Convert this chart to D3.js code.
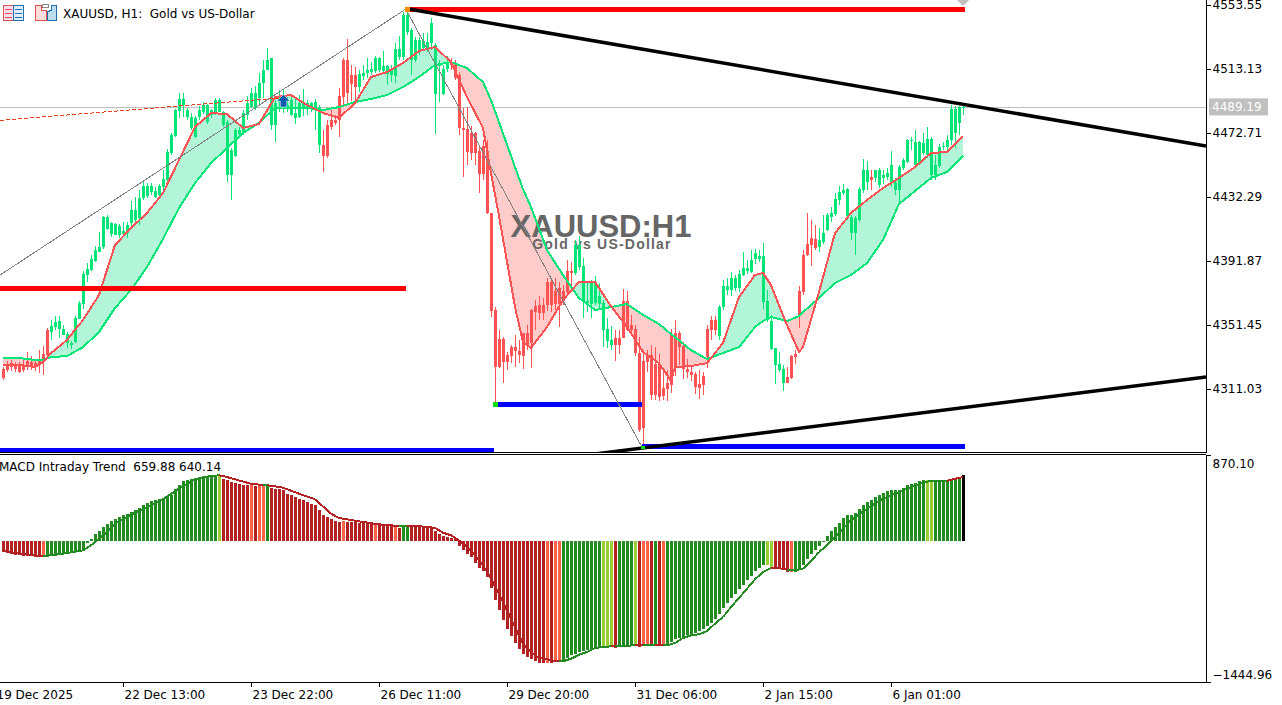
<!DOCTYPE html>
<html><head><meta charset="utf-8">
<script src="https://cdnjs.cloudflare.com/ajax/libs/d3/7.8.5/d3.min.js"></script>
<style>
html,body{margin:0;padding:0;background:#fff;overflow:hidden}
svg{display:block}
text{font-family:"DejaVu Sans",sans-serif;font-size:12px;fill:#000}
</style></head><body><div id="chart"></div>
<script>
const highs=[4324.9,4328.7,4329.3,4328.0,4328.0,4329.3,4334.4,4331.8,4329.3,4335.6,4338.2,4349.5,4354.6,4357.1,4357.1,4351.4,4347.0,4341.3,4357.1,4366.6,4385.5,4390.6,4395.6,4401.3,4410.2,4420.3,4420.9,4416.5,4415.8,4415.2,4416.5,4416.5,4429.7,4432.3,4436.7,4443.0,4441.1,4441.1,4438.6,4440.5,4449.3,4462.6,4472.7,4487.9,4498.0,4498.0,4488.5,4485.3,4483.4,4489.7,4492.3,4491.0,4487.9,4494.8,4494.8,4486.6,4480.9,4463.2,4475.9,4476.5,4487.2,4496.1,4501.1,4502.4,4510.6,4518.8,4526.4,4520.1,4493.5,4499.9,4499.9,4495.4,4497.3,4494.8,4496.7,4500.5,4493.5,4492.3,4494.2,4490.4,4474.6,4480.9,4487.2,4484.0,4501.1,4520.1,4532.1,4515.6,4514.4,4512.5,4515.6,4520.1,4517.5,4521.3,4520.7,4524.5,4515.6,4515.6,4529.5,4534.0,4549.1,4550.4,4539.0,4533.3,4533.3,4535.9,4535.9,4545.3,4529.5,4518.8,4515.6,4521.3,4520.1,4518.8,4511.2,4488.5,4489.1,4477.1,4473.3,4463.9,4468.3,4468.3,4422.2,4362.8,4348.3,4343.8,4334.4,4338.8,4345.1,4342.0,4346.4,4351.4,4361.5,4367.2,4369.7,4368.5,4381.1,4379.9,4381.1,4378.6,4376.7,4392.5,4391.2,4405.1,4407.6,4393.8,4378.0,4379.9,4382.4,4378.0,4367.2,4355.9,4350.8,4348.3,4348.3,4374.2,4372.9,4357.8,4351.4,4343.8,4335.6,4335.6,4338.8,4337.5,4333.1,4321.7,4323.0,4348.9,4354.6,4347.6,4340.7,4329.9,4325.5,4321.7,4323.0,4321.7,4351.4,4357.1,4357.1,4364.1,4379.9,4381.1,4384.9,4383.0,4386.2,4397.5,4392.5,4398.8,4399.4,4398.8,4403.2,4373.5,4357.8,4336.9,4334.4,4326.2,4324.9,4332.5,4335.6,4376.1,4398.8,4422.2,4417.7,4414.6,4412.7,4420.9,4422.2,4426.0,4434.8,4439.2,4440.5,4438.0,4420.9,4420.3,4438.6,4456.3,4455.0,4449.3,4449.3,4450.6,4449.3,4450.6,4461.3,4444.3,4452.5,4456.9,4468.9,4470.2,4474.6,4467.6,4472.7,4476.5,4470.2,4458.8,4465.7,4467.0,4471.4,4490.4,4489.7,4489.7,4490.4];
const lows=[4316.7,4321.7,4322.4,4321.7,4321.1,4321.7,4323.0,4323.0,4322.4,4321.1,4319.8,4331.8,4342.0,4348.3,4343.2,4345.1,4336.9,4336.3,4340.1,4355.2,4361.5,4378.6,4385.5,4391.2,4397.5,4399.4,4411.4,4407.0,4408.3,4406.4,4407.0,4406.4,4412.7,4414.6,4414.6,4430.4,4431.6,4433.5,4431.6,4431.6,4434.8,4441.7,4458.8,4470.2,4482.2,4482.8,4480.9,4474.6,4469.5,4480.9,4484.7,4478.4,4482.2,4484.1,4486.0,4476.5,4441.7,4430.4,4457.5,4471.4,4471.4,4480.9,4488.5,4487.2,4490.4,4494.8,4512.5,4474.6,4467.0,4485.9,4485.3,4485.9,4483.4,4478.4,4482.2,4483.4,4484.1,4485.9,4474.6,4460.1,4448.1,4456.9,4474.6,4477.8,4470.2,4490.4,4490.4,4492.9,4493.5,4498.6,4506.2,4507.4,4509.3,4510.6,4511.2,4510.6,4503.0,4504.9,4504.3,4518.8,4518.8,4534.6,4509.3,4517.5,4522.0,4525.1,4523.9,4525.1,4472.1,4492.3,4496.7,4511.2,4512.5,4506.2,4471.4,4444.9,4452.5,4455.6,4452.5,4434.8,4443.0,4421.5,4356.5,4301.5,4324.3,4314.8,4323.0,4327.4,4324.9,4327.4,4323.6,4335.6,4324.3,4348.3,4354.6,4354.6,4360.3,4359.6,4360.9,4350.2,4364.1,4370.4,4373.5,4383.0,4386.2,4355.9,4359.6,4355.9,4364.1,4360.9,4337.5,4336.9,4335.6,4328.7,4333.1,4343.2,4347.6,4347.0,4331.8,4283.8,4274.4,4321.7,4304.1,4304.1,4303.4,4304.1,4303.4,4308.5,4319.2,4326.2,4317.3,4318.0,4316.1,4307.9,4304.7,4307.2,4324.3,4342.0,4345.1,4342.0,4360.9,4370.4,4369.7,4372.9,4372.3,4382.4,4383.6,4384.3,4389.9,4391.2,4361.5,4353.3,4335.6,4314.2,4321.7,4309.7,4314.8,4317.3,4326.8,4349.5,4370.4,4395.0,4388.7,4398.8,4397.5,4402.6,4410.8,4416.5,4420.3,4427.2,4433.5,4417.7,4405.1,4395.6,4416.5,4434.8,4436.7,4436.7,4441.7,4438.0,4440.5,4443.0,4438.6,4433.5,4427.2,4449.3,4453.8,4462.0,4450.6,4452.5,4458.8,4456.9,4443.0,4443.0,4450.6,4462.0,4462.0,4465.1,4463.2,4471.4,4484.1];
const opens=[4323.6,4326.2,4327.4,4326.8,4325.5,4326.2,4328.7,4328.0,4327.4,4328.7,4333.1,4348.3,4347.0,4350.2,4348.9,4345.1,4340.1,4338.8,4340.7,4355.2,4364.7,4383.0,4386.2,4391.9,4397.5,4400.7,4412.1,4408.9,4408.3,4408.3,4408.9,4409.5,4415.9,4417.7,4419.0,4431.6,4432.9,4435.4,4432.3,4433.5,4438.6,4443.0,4460.1,4470.8,4486.6,4490.4,4482.8,4475.9,4470.2,4482.8,4485.9,4479.6,4484.0,4485.9,4485.9,4477.8,4446.2,4446.2,4458.2,4472.1,4472.7,4484.0,4489.1,4488.5,4494.8,4504.3,4512.5,4477.8,4477.8,4492.3,4490.4,4488.5,4484.0,4482.2,4482.8,4489.1,4489.1,4489.1,4488.5,4465.1,4465.1,4477.8,4480.9,4480.9,4496.1,4518.8,4518.8,4509.3,4509.3,4501.7,4508.7,4510.6,4511.2,4511.9,4512.5,4511.9,4510.0,4509.3,4508.7,4520.7,4520.7,4536.5,4518.8,4518.8,4523.9,4526.4,4525.1,4529.5,4497.3,4515.0,4497.3,4513.1,4516.9,4516.9,4509.3,4475.9,4475.2,4472.7,4472.7,4461.3,4464.5,4461.3,4422.2,4360.9,4342.6,4342.6,4332.5,4337.5,4337.5,4335.0,4346.4,4346.4,4360.9,4363.4,4364.1,4364.1,4378.6,4378.6,4372.9,4374.8,4372.9,4385.5,4385.5,4384.3,4388.1,4365.9,4365.3,4364.7,4365.3,4364.7,4348.3,4341.3,4338.8,4343.2,4343.2,4366.6,4366.6,4351.4,4348.9,4333.7,4328.7,4331.8,4332.5,4326.8,4326.8,4311.6,4314.8,4345.1,4346.4,4346.4,4338.2,4323.6,4321.7,4320.5,4314.2,4319.2,4348.9,4354.6,4354.6,4344.5,4362.8,4373.5,4373.5,4374.8,4374.8,4383.0,4385.5,4384.9,4393.1,4393.1,4365.9,4354.6,4336.3,4326.2,4323.0,4314.8,4318.6,4331.8,4333.1,4372.9,4395.6,4402.6,4406.4,4405.8,4400.7,4403.9,4411.4,4419.6,4421.5,4430.4,4434.8,4420.3,4409.5,4409.5,4417.7,4436.7,4441.7,4444.9,4444.3,4439.9,4444.3,4444.9,4441.1,4436.7,4436.7,4450.6,4454.4,4467.6,4452.5,4453.8,4460.1,4458.8,4446.2,4446.2,4451.9,4463.9,4463.9,4468.3,4472.7,4479.0,4488.5];
const closes=[4318.0,4323.0,4324.9,4323.6,4321.7,4323.0,4326.2,4325.5,4325.5,4326.2,4328.0,4332.5,4350.8,4353.3,4353.9,4348.9,4345.7,4340.1,4355.9,4365.3,4383.6,4386.8,4393.1,4398.8,4400.7,4419.6,4419.6,4415.9,4415.2,4413.9,4410.8,4414.6,4424.1,4424.1,4431.6,4439.2,4439.2,4439.2,4436.1,4439.2,4443.6,4460.7,4471.4,4487.2,4494.2,4494.2,4487.2,4482.8,4482.2,4487.2,4490.4,4490.4,4487.2,4493.5,4493.5,4485.9,4479.6,4462.0,4474.6,4474.6,4485.3,4491.6,4498.0,4498.0,4504.3,4512.5,4518.8,4520.1,4491.6,4495.4,4494.8,4490.4,4493.5,4485.3,4491.6,4491.6,4491.6,4491.6,4492.3,4489.1,4458.2,4458.2,4476.5,4479.0,4480.9,4495.4,4498.0,4503.6,4501.7,4510.0,4510.6,4512.5,4513.1,4520.1,4520.1,4515.0,4515.0,4512.5,4525.8,4525.8,4547.2,4547.2,4537.8,4531.4,4531.4,4530.8,4530.2,4542.2,4528.3,4516.9,4513.1,4517.5,4515.6,4507.4,4475.9,4474.6,4460.7,4460.1,4460.1,4446.8,4446.8,4422.2,4360.3,4324.9,4324.9,4328.0,4328.0,4331.8,4335.0,4332.5,4331.8,4338.8,4340.1,4359.6,4359.0,4359.0,4364.1,4364.1,4364.7,4364.7,4366.6,4372.3,4384.3,4402.0,4402.0,4388.7,4366.6,4378.0,4378.6,4369.7,4365.3,4348.9,4342.0,4338.8,4338.8,4343.2,4348.3,4348.3,4333.7,4285.1,4286.4,4328.0,4307.2,4307.2,4305.9,4306.6,4311.0,4313.5,4324.9,4337.5,4323.6,4321.7,4319.8,4312.3,4311.6,4313.5,4331.2,4348.3,4348.3,4362.8,4376.1,4376.1,4381.1,4381.1,4383.6,4387.4,4387.4,4392.5,4396.9,4395.0,4395.0,4366.6,4353.9,4336.9,4326.8,4323.6,4314.8,4318.0,4331.2,4357.8,4372.3,4395.6,4402.0,4400.1,4405.1,4409.5,4420.9,4422.2,4431.0,4435.4,4436.7,4437.3,4419.6,4419.0,4437.3,4449.3,4449.3,4443.0,4449.3,4449.3,4446.2,4447.4,4452.5,4441.7,4451.2,4455.6,4468.3,4468.3,4467.0,4467.0,4466.4,4468.9,4468.9,4452.5,4463.9,4464.5,4468.3,4487.9,4487.9,4489.1,4489.1];
const lineBars=[0,4,8,10,12,16,20,24,28,32,36,40,44,48,52,56,60,64,68,72,76,80,84,88,92,96,100,104,108,112,116,120,122,124,128,130,132,136,140,144,148,152,156,160,164,167,168,172,176,180,184,188,190,192,196,199,200,204,208,212,216,220,224,228,232,236,240];
const fastLine=[4326.2,4326.2,4324.9,4328.0,4333.7,4342.0,4354.6,4370.4,4402.0,4412.7,4422.2,4434.8,4455.6,4476.5,4485.3,4484.7,4475.9,4478.4,4495.4,4496.7,4490.4,4485.3,4482.2,4491.6,4508.1,4511.2,4516.9,4524.5,4527.0,4517.5,4495.4,4475.9,4447.4,4420.3,4362.8,4340.7,4336.9,4350.2,4367.2,4378.6,4378.6,4363.4,4350.2,4334.4,4327.4,4316.1,4324.9,4325.5,4327.4,4340.1,4369.1,4383.0,4384.3,4376.7,4351.4,4334.4,4337.5,4372.3,4409.5,4422.2,4430.4,4437.9,4444.3,4451.2,4460.1,4460.7,4470.8];
const slowLine=[4330.6,4330.6,4329.3,4329.3,4331.2,4331.8,4337.5,4347.0,4362.2,4373.5,4388.1,4405.8,4425.3,4441.1,4453.7,4463.2,4472.7,4479.0,4488.5,4488.5,4488.5,4487.2,4489.1,4492.3,4494.2,4496.7,4501.7,4508.1,4515.6,4517.5,4513.7,4504.9,4493.5,4479.6,4451.2,4437.3,4426.0,4398.8,4383.0,4368.5,4360.9,4362.8,4364.7,4357.8,4352.1,4345.7,4343.8,4335.6,4329.9,4333.7,4337.5,4350.2,4353.9,4356.5,4353.9,4357.1,4359.6,4368.5,4378.0,4383.0,4390.6,4405.1,4427.9,4436.1,4444.3,4448.1,4458.2];
const histValues=[-110,-120,-127,-137,-143,-150,-153,-153,-157,-157,-153,-143,-137,-133,-133,-127,-120,-113,-110,-103,-87,-17,23,67,97,140,170,200,223,237,257,273,290,307,330,363,380,403,413,423,433,450,463,523,563,597,613,623,633,640,647,653,657,657,650,623,607,590,580,567,557,557,557,550,550,550,550,533,523,517,507,473,457,440,423,407,390,373,357,307,263,240,217,200,190,197,190,190,190,180,180,173,173,173,163,157,150,147,140,130,147,147,147,147,140,140,133,133,97,73,50,40,33,17,-50,-93,-133,-160,-217,-270,-303,-360,-470,-593,-693,-793,-877,-950,-1017,-1077,-1127,-1160,-1183,-1203,-1217,-1220,-1220,-1220,-1210,-1203,-1190,-1167,-1143,-1127,-1110,-1103,-1093,-1087,-1070,-1060,-1050,-1050,-1050,-1070,-1050,-1050,-1050,-1043,-1027,-1060,-1050,-1043,-1043,-1043,-1043,-1043,-1043,-1010,-983,-970,-960,-943,-933,-917,-900,-883,-853,-820,-777,-727,-670,-620,-570,-527,-483,-437,-393,-350,-303,-267,-243,-243,-260,-260,-283,-293,-310,-310,-310,-277,-237,-183,-133,-93,-50,-5,47,97,140,183,230,257,263,283,317,357,390,413,440,457,483,500,507,510,513,533,557,573,583,597,607,613,590,590,607,613,613,623,633,640,659.88];
const histRuns=[["R",10],["T",1],["G",43],["Y",1],["R",7],["T",1],["R",1],["T",2],["G",1],["R",18],["T",1],["R",7],["T",1],["R",4],["T",1],["R",1],["G",2],["R",34],["T",1],["R",1],["T",2],["G",10],["Y",3],["R",1],["G",4],["Y",1],["R",1],["T",2],["R",1],["G",1],["R",1],["T",1],["G",25],["Y",2],["R",4],["T",1],["G",33],["Y",2],["G",7]];
const signalBars=[0,4,8,10,11,12,16,20,22,24,26,28,32,36,40,44,48,52,54,55,58,62,65,66,67,70,74,78,81,82,84,86,90,94,98,99,100,101,102,106,108,110,112,114,116,118,120,122,124,126,128,130,132,134,136,138,139,140,142,144,146,148,150,152,153,154,156,158,159,160,163,164,165,166,168,170,172,174,176,178,180,182,184,186,188,190,192,194,196,198,199,200,202,204,206,207,208,212,216,220,224,228,232,236,240];
const signalValues=[-100,-127,-143,-153,-148,-143,-120,-93,-43,23,90,173,263,340,417,523,617,650,657,650,617,573,560,557,553,533,473,417,310,273,230,217,190,167,153,150,150,150,150,143,130,83,57,7,-60,-143,-243,-377,-527,-693,-860,-1027,-1110,-1170,-1183,-1200,-1202,-1203,-1177,-1137,-1110,-1070,-1060,-1053,-1053,-1053,-1053,-1037,-1037,-1037,-1043,-1043,-1043,-1043,-1020,-970,-943,-933,-900,-827,-760,-660,-570,-477,-383,-310,-270,-270,-287,-293,-285,-277,-203,-110,-43,0,40,207,323,423,490,557,603,603,640.14];
const priceTicks=[4553.55,4513.13,4472.71,4432.29,4391.87,4351.45,4311.03];
const macdTicks=[870.10,-1444.96];
const dateTickBars=[-2,30,62,94,126,158,190,222];
const dateTickLabels=["19 Dec 2025","22 Dec 13:00","23 Dec 22:00","26 Dec 11:00","29 Dec 20:00","31 Dec 06:00","2 Jan 15:00","6 Jan 01:00"];
const bidPrice=4489.19;
const levelBars=[[-3,100.7],[-3,122.7],[122.7,159.7],[159.7,240.5],[100.7,240.5]];
const levelPrices=[4374.5,4272.5,4301.2,4274.7,4550.7];
const levelColors=["#ff0000","#0000ff","#0000ff","#0000ff","#ff0000"];
const trendDown={bars:[100.7,300.75],prices:[4551.3,4464.5]};
const trendUp={bars:[148,300.75],prices:[4270,4318.6]};
const zigzagBars=[-0.75,100.7,159.7];
const zigzagPrices=[4383,4551,4274.5];
const dashBars=[-0.75,70];
const dashPrices=[4480.7,4495];
const palette={G:"#228b22",Y:"#9acd32",R:"#b22222",T:"#ff6347"};
const UP="#00e676",DOWN="#ff5252";

const W=1282,H=705,paneR=1206,p1B=453,p2T=455,p2B=683;
const svg=d3.select("#chart").append("svg").attr("width",W).attr("height",H);
const defs=svg.append("defs");
defs.append("clipPath").attr("id","c1").append("rect").attr("width",paneR).attr("height",p1B);
defs.append("clipPath").attr("id","c2").append("rect").attr("y",p2T).attr("width",paneR).attr("height",p2B-p2T);

const x=d3.scaleLinear().domain([0,240]).range([3,963]);
const y=d3.scaleLinear().domain([4553.55,4311.03]).range([5,389]);
const ym=d3.scaleLinear().domain([870.10,-1444.96]).range([454,685.5]);
const ymAxis=d3.scaleLinear().domain([870.10,-1444.96]).range([455,682]);

const histStates=histRuns.flatMap(([s,n])=>Array(n).fill(s));

const g1=svg.append("g").attr("clip-path","url(#c1)").attr("shape-rendering","crispEdges");
// last price line
g1.append("line").attr("x1",0).attr("x2",paneR).attr("y1",Math.round(y(bidPrice))+.5).attr("y2",Math.round(y(bidPrice))+.5).attr("stroke","#c0c0c0");

// fill between the two averages, split where they cross
const merged=[];
lineBars.forEach((b,i)=>{
  if(i>0){
    const d0=fastLine[i-1]-slowLine[i-1],d1=fastLine[i]-slowLine[i];
    if(d0*d1<0){const t=d0/(d0-d1),bb=lineBars[i-1]+t*(b-lineBars[i-1]),v=fastLine[i-1]+t*(fastLine[i]-fastLine[i-1]);merged.push({b:bb,f:v,s:v});}
  }
  merged.push({b,f:fastLine[i],s:slowLine[i]});
});
const gf=svg.append("g").attr("clip-path","url(#c1)");
gf.append("path").attr("d",d3.area().x(d=>x(d.b)).y0(d=>y(d.s)).y1(d=>y(Math.max(d.f,d.s)))(merged)).attr("fill","#b2f5d8");
gf.append("path").attr("d",d3.area().x(d=>x(d.b)).y0(d=>y(d.s)).y1(d=>y(Math.min(d.f,d.s)))(merged)).attr("fill","#ffcccc");

// watermark
const wm=svg.append("g");
wm.append("text").attr("x",601).attr("y",237).attr("text-anchor","middle").style("font-family","'Liberation Sans',sans-serif").style("font-weight","bold").style("font-size","31px").style("fill","#666").text("XAUUSD:H1");
wm.append("text").attr("x",602).attr("y",249).attr("text-anchor","middle").style("font-family","'Liberation Sans',sans-serif").style("font-weight","bold").style("font-size","14px").style("letter-spacing","1.2px").style("fill","#666").text("Gold vs US-Dollar");

// candles
const g2=svg.append("g").attr("clip-path","url(#c1)").attr("shape-rendering","crispEdges");
const cIdx=d3.range(highs.length);
const colr=i=>closes[i]>=opens[i]?UP:DOWN;
g2.selectAll("rect.w").data(cIdx).join("rect").attr("class","w").attr("x",i=>x(i)).attr("width",1)
  .attr("y",i=>y(highs[i])).attr("height",i=>y(lows[i])-y(highs[i])).attr("fill",colr);
g2.selectAll("rect.b").data(cIdx).join("rect").attr("class","b").attr("x",i=>x(i)-1).attr("width",3)
  .attr("y",i=>y(Math.max(opens[i],closes[i]))).attr("height",i=>Math.max(1,Math.abs(y(opens[i])-y(closes[i])))).attr("fill",colr);

// averages
const ln=d3.line().x((d,i)=>x(lineBars[i])).y(d=>y(d));
g2.append("path").attr("d",ln(slowLine)).attr("fill","none").attr("stroke",UP).attr("stroke-width",2);
g2.append("path").attr("d",ln(fastLine)).attr("fill","none").attr("stroke",DOWN).attr("stroke-width",2);

// levels
levelPrices.forEach((p,i)=>g2.append("rect").attr("x",x(levelBars[i][0])).attr("width",x(levelBars[i][1])-x(levelBars[i][0]))
  .attr("y",y(p)-2.5).attr("height",5).attr("fill",levelColors[i]));
// thin zigzag and dashed
const pl=(bs,ps)=>d3.line().x((d,i)=>x(bs[i])).y(d=>y(d))(ps);
g2.append("path").attr("d",pl(zigzagBars,zigzagPrices)).attr("fill","none").attr("stroke","#808080").attr("stroke-width",1);
g2.append("path").attr("d",pl(dashBars,dashPrices)).attr("fill","none").attr("stroke","#e8401c").attr("stroke-width",1).attr("stroke-dasharray","4,2");
// trend lines
[trendDown,trendUp].forEach(t=>g2.append("path").attr("d",pl(t.bars,t.prices)).attr("fill","none").attr("stroke","#000").attr("stroke-width",3.5).attr("shape-rendering","auto"));
// small markers
g2.append("rect").attr("x",x(100.7)-1).attr("y",y(4550.7)-2.5).attr("width",5).attr("height",5).attr("fill","#ff8c00");
g2.append("rect").attr("x",x(122.7)-1).attr("y",y(4301.2)-2.5).attr("width",5).attr("height",5).attr("fill","#00e000");
g2.append("rect").attr("x",x(159.7)-1).attr("y",y(4274.7)-1).attr("width",4).attr("height",3).attr("fill","#00e000");
// arrow
const ax=x(70),ay=y(4493);
svg.append("path").attr("d",`M${ax+.5},${ay-6}l6,6h-3v6h-6v-6h-3z`).attr("fill","#0b5cad").attr("stroke","#fff").attr("stroke-width",1).attr("paint-order","stroke");
// diamond at top
svg.append("path").attr("d",`M${x(240)-6},0h12l-6,6z`).attr("fill","#c0c0c0");

// MACD
const g3=svg.append("g").attr("clip-path","url(#c2)").attr("shape-rendering","crispEdges");
g3.selectAll("rect").data(histValues).join("rect").attr("x",(d,i)=>x(i)-1).attr("width",3)
  .attr("y",d=>Math.round(ym(Math.max(0,d)))).attr("height",d=>Math.max(1,Math.abs(Math.round(ym(d))-ym(0))))
  .attr("fill",(d,i)=>palette[histStates[i]]);
signalBars.forEach((b,i)=>{ if(i===0) return;
  const st=histStates[b], col=(st==="G"||st==="Y")?palette.G:palette.R;
  g3.append("path").attr("d",d3.line()([[x(signalBars[i-1]),ym(signalValues[i-1])],[x(b),ym(signalValues[i])]])).attr("fill","none").attr("stroke",col).attr("stroke-width",2);
});

// frame lines
const fr=svg.append("g").attr("shape-rendering","crispEdges");
const hl=(x1,x2,yy)=>fr.append("line").attr("x1",x1).attr("x2",x2).attr("y1",yy).attr("y2",yy).attr("stroke","#000");
hl(0,paneR,452.5);hl(0,paneR,454.5);hl(0,paneR,682.5);

// axes
const sty=g=>{g.selectAll("line").attr("stroke","#000");g.selectAll("path.domain").attr("stroke","#000");g.attr("shape-rendering","crispEdges");};
const axR=svg.append("g").attr("transform",`translate(${paneR+.5},0)`).call(d3.axisRight(y).tickValues(priceTicks).tickFormat(d3.format(".2f")).tickSize(4).tickPadding(2));
axR.select("path.domain").attr("d",`M0,0V${p1B}`);sty(axR);
axR.selectAll("text").style("font-family","'DejaVu Sans'").style("font-size","12px");
const axM=svg.append("g").attr("transform",`translate(${paneR+.5},0)`).call(d3.axisRight(ymAxis).tickValues(macdTicks).tickFormat(d3.format(".2f")).tickSize(4).tickPadding(2));
axM.select("path.domain").attr("d",`M0,${p2T}V${p2B}`);sty(axM);
axM.selectAll("text").style("font-family","'DejaVu Sans'").style("font-size","12px").attr("dy",(d,i)=>i===0?"12px":"-4px");
const axB=svg.append("g").attr("transform",`translate(0,${p2B-.5})`).call(d3.axisBottom(x).tickValues(dateTickBars).tickFormat((d,i)=>dateTickLabels[i]).tickSize(4).tickPadding(4));
axB.select("path.domain").remove();sty(axB);
axB.selectAll("text").attr("text-anchor","start").attr("dx","1px").style("font-family","'DejaVu Sans'").style("font-size","12px");

// last price tag
const ty=y(bidPrice);
svg.append("rect").attr("x",1209).attr("y",ty-8.5).attr("width",59).attr("height",17).attr("fill","#c0c0c0");
svg.append("text").attr("x",1212).attr("y",ty+4.5).style("fill","#fff").text(d3.format(".2f")(bidPrice));

// titles
svg.append("text").attr("x",63).attr("y",18).text("XAUUSD, H1:  Gold vs US-Dollar").attr("xml:space","preserve").style("white-space","pre");
svg.append("text").attr("x",-1).attr("y",471).text("MACD Intraday Trend  659.88 640.14").style("white-space","pre");
// title-bar icons
const ic=svg.append("g").attr("shape-rendering","crispEdges");
ic.append("rect").attr("x",3.5).attr("y",5.5).attr("width",10).attr("height",15).attr("fill","#fde").attr("stroke","#e05050");
ic.append("rect").attr("x",13.5).attr("y",5.5).attr("width",10).attr("height",15).attr("fill","#def").attr("stroke","#2070b0");
[9,13,17].forEach(v=>{ic.append("line").attr("x1",5).attr("x2",12).attr("y1",v+.5).attr("y2",v+.5).attr("stroke","#e05050");ic.append("line").attr("x1",15).attr("x2",22).attr("y1",v+.5).attr("y2",v+.5).attr("stroke","#2070b0");});
ic.append("path").attr("d","M35.5,5.5h6v5h5v10h-11z").attr("fill","#fdd").attr("stroke","#e05050");
ic.append("path").attr("d","M47.5,11.5l4,-1v-5h5v15h-9z").attr("fill","#bde").attr("stroke","#2070b0");
ic.append("rect").attr("x",42.5).attr("y",4.5).attr("width",6).attr("height",3).attr("fill","#fff").attr("stroke","#888");
</script></body></html>
